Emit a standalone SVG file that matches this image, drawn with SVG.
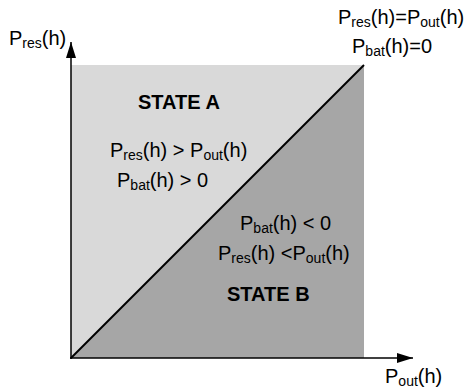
<svg xmlns="http://www.w3.org/2000/svg" width="465" height="390" viewBox="0 0 465 390">
<style>
text{font-family:"Liberation Sans",Arial,sans-serif;font-size:20px;fill:#000}
.b{font-weight:bold}
.s{font-size:14px}
.ax{stroke:#000;stroke-width:1.5;fill:none}
</style>
<defs>
<marker id="ah" markerWidth="16" markerHeight="10" refX="16" refY="5" orient="auto" markerUnits="userSpaceOnUse">
<path d="M0,0 L16,5 L0,10 Z" fill="#000"/>
</marker>
</defs>
<g id="stateA">
<polygon points="71,65 364,65 71,358" fill="#d9d9d9"/>
<text class="b" x="138" y="109">STATE A</text>
<text x="110" y="157">P<tspan class="s" dy="3">res</tspan><tspan dy="-3">(h) &gt; P</tspan><tspan class="s" dy="3">out</tspan><tspan dy="-3">(h)</tspan></text>
<text x="117" y="187">P<tspan class="s" dy="3">bat</tspan><tspan dy="-3">(h) &gt; 0</tspan></text>
</g>
<g id="stateB">
<polygon points="364,65 364,358 71,358" fill="#a6a6a6"/>
<text x="240" y="230">P<tspan class="s" dy="3">bat</tspan><tspan dy="-3">(h) &lt; 0</tspan></text>
<text x="218" y="260">P<tspan class="s" dy="3">res</tspan><tspan dy="-3">(h) &lt;P</tspan><tspan class="s" dy="3">out</tspan><tspan dy="-3">(h)</tspan></text>
<text class="b" x="227" y="301">STATE B</text>
</g>
<g id="boundary">
<text x="338" y="24">P<tspan class="s" dy="3">res</tspan><tspan dy="-3">(h)=P</tspan><tspan class="s" dy="3">out</tspan><tspan dy="-3">(h)</tspan></text>
<text x="352" y="53">P<tspan class="s" dy="3">bat</tspan><tspan dy="-3">(h)=0</tspan></text>
</g>
<g id="axisY">
<text x="9" y="45">P<tspan class="s" dy="3">res</tspan><tspan dy="-3">(h)</tspan></text>
</g>
<g id="axisX">
<text x="385" y="383">P<tspan class="s" dy="3">out</tspan><tspan dy="-3">(h)</tspan></text>
</g>
<g id="connectors">
<line class="ax" x1="71" y1="359" x2="71" y2="42" marker-end="url(#ah)"/>
<line class="ax" x1="70" y1="358" x2="413" y2="358" marker-end="url(#ah)"/>
<line x1="71" y1="358" x2="364" y2="65" stroke="#000" stroke-width="2"/>
</g>
</svg>
